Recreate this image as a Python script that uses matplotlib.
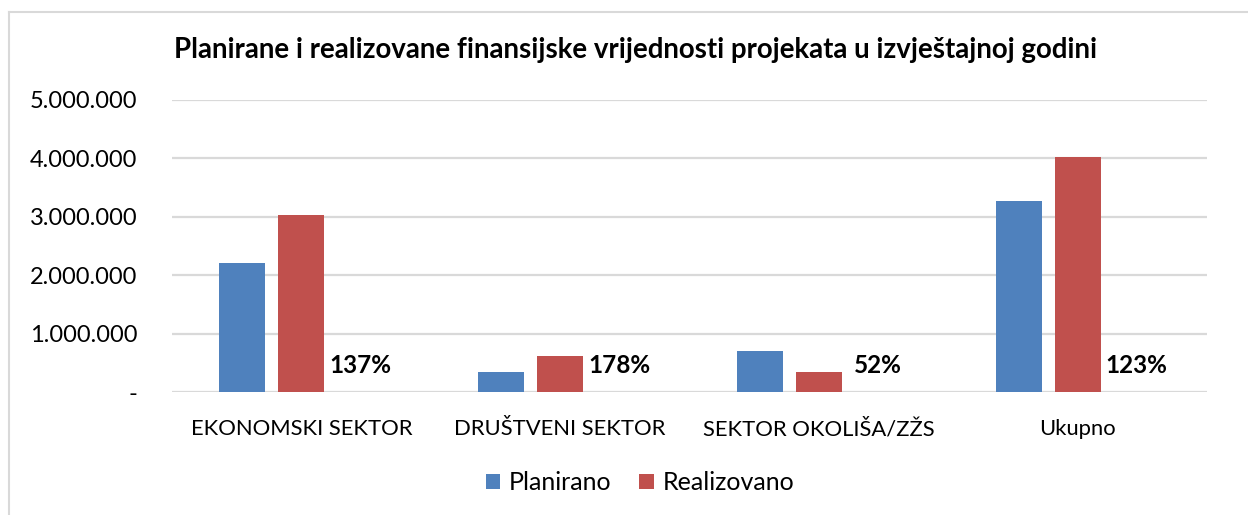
import numpy as np
import matplotlib
matplotlib.use("Agg")
from matplotlib import pyplot as plt
from matplotlib.lines import Line2D

plt.rcParams['font.family'] = ['Lato', 'DejaVu Sans']

categories = ["EKONOMSKI SEKTOR", "DRUŠTVENI SEKTOR", "SEKTOR OKOLIŠA/ZŽS", "Ukupno"]
planirano = [2216000, 350000, 700000, 3275000]
realizovano = [3030000, 623000, 354000, 4020000]
procenat = ["137%", "178%", "52%", "123%"]
y_ticks = [0, 1000000, 2000000, 3000000, 4000000, 5000000]
y_tick_labels = ["-", "1.000.000", "2.000.000", "3.000.000", "4.000.000", "5.000.000"]

blue = "#4f81bd"
red = "#c0504d"

W, H = 1248, 515
fig = plt.figure(figsize=(W / 100, H / 100), dpi=100)
ax = fig.add_axes([172 / W, 1 - 392.3 / H, (1207 - 172) / W, (392.3 - 100) / H])

x = np.arange(len(categories))
width = 46 / 258.75
pitch = 59 / 258.75

ax.bar(x - pitch, planirano, width, color=blue, label="Planirano", zorder=3)
ax.bar(x, realizovano, width, color=red, label="Realizovano", zorder=3)
for xi, txt in zip(x, procenat):
    ax.annotate(txt, (xi + pitch, 0), xytext=(0, 27), textcoords="offset pixels",
                ha="center", va="center", fontsize=17.5, fontweight="bold")

ax.set_xlim(-0.5, len(categories) - 0.5)
ax.set_ylim(0, 5000000)
ax.set_yticks(y_ticks)
ax.set_yticklabels(y_tick_labels, fontsize=17)
ax.set_xticks(x)
ax.set_xticklabels(categories, fontsize=15.8)
ax.tick_params(axis="y", length=0, pad=25)
ax.tick_params(axis="x", length=0, pad=19)
ax.grid(axis="y", color="#d9d9d9", linewidth=1.6, zorder=0)
for s in ax.spines.values():
    s.set_visible(False)

fig.text(636 / W, 1 - 50 / H, "Planirane i realizovane finansijske vrijednosti projekata u izvještajnoj godini",
         ha="center", va="center", fontsize=19.9, fontweight="bold")

fig.legend(loc="center", bbox_to_anchor=(640 / W, 1 - 483 / H), ncol=2, frameon=False,
           fontsize=18, handlelength=0.58, handleheight=0.58, handletextpad=0.35, columnspacing=1.1)

# chart frame (top and left edges visible)
fig.add_artist(Line2D([9 / W, 1], [1 - 12 / H, 1 - 12 / H], color="#d9d9d9", linewidth=1.5))
fig.add_artist(Line2D([9 / W, 9 / W], [0, 1 - 12 / H], color="#d9d9d9", linewidth=1.5))

fig.savefig("out.png", dpi=100)
